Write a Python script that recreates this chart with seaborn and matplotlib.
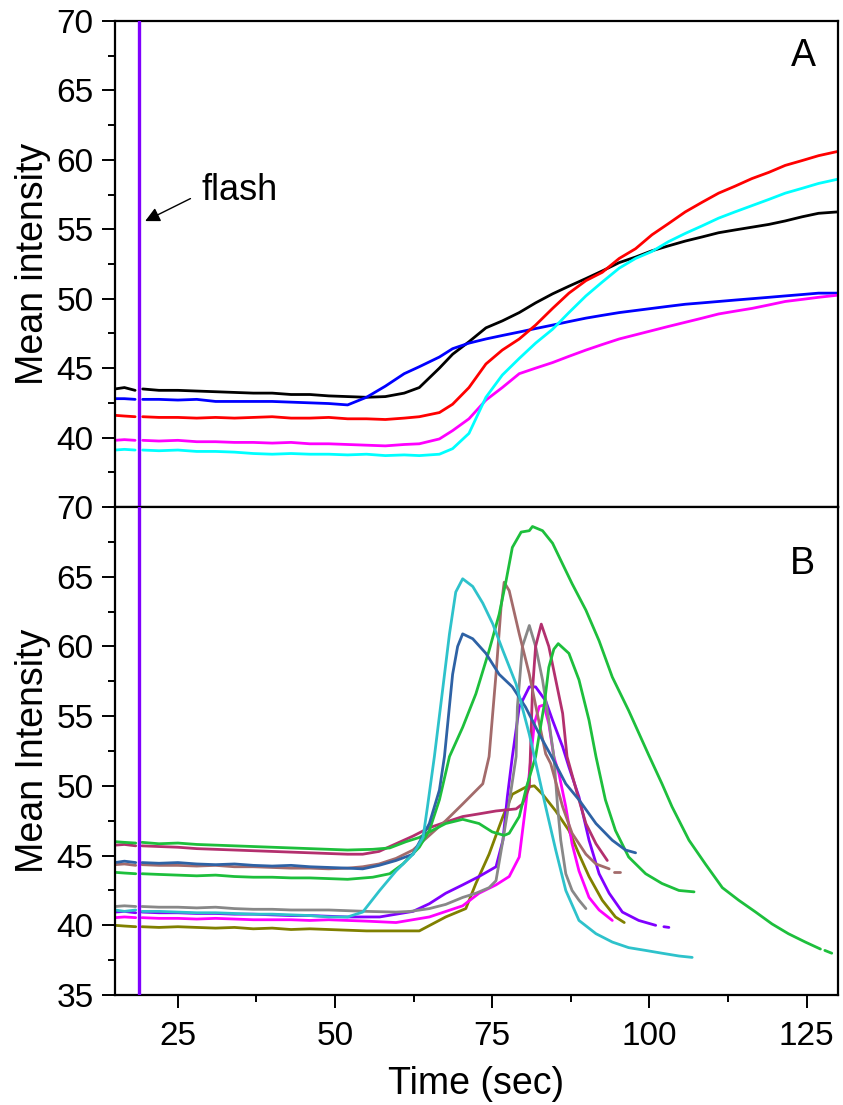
import numpy as np
import pandas as pd
import matplotlib
matplotlib.use("Agg")
import matplotlib.pyplot as plt
from matplotlib.ticker import MultipleLocator, FixedLocator
import seaborn as sns

nan = np.nan

# ---- panel A: shared time grid (gap where the flash hits) ----
time_a = [15, 16.5, 18.2, nan, 19.4, 22, 25, 28, 31, 34, 37, 40, 43, 46, 49, 52, 55, 58, 61,
          63.4, 66.6, 68.7, 71.3, 74, 76.6, 79.3, 81.9, 84.6, 87.2, 89.9, 92.5, 95.2, 97.8,
          100.4, 103, 105.7, 108.4, 111, 113.6, 116.3, 119, 121.6, 124.3, 126.9, 129.9]
black_a = [43.5, 43.6, 43.4, nan, 43.5, 43.4, 43.4, 43.35, 43.3, 43.25, 43.2, 43.2, 43.1, 43.1,
           43.0, 42.95, 42.9, 42.95, 43.2, 43.6, 45.0, 46.0, 46.9, 47.9, 48.4, 49.0, 49.7,
           50.35, 50.9, 51.45, 52.0, 52.6, 53.0, 53.45, 53.8, 54.15, 54.45, 54.75, 54.95,
           55.15, 55.35, 55.6, 55.9, 56.15, 56.25]
blue_a = [42.8, 42.8, 42.75, nan, 42.75, 42.75, 42.7, 42.75, 42.6, 42.6, 42.6, 42.6, 42.55,
          42.5, 42.45, 42.35, 42.9, 43.7, 44.6, 45.1, 45.8, 46.4, 46.8, 47.1, 47.35, 47.6,
          47.85, 48.1, 48.35, 48.6, 48.8, 49.0, 49.15, 49.3, 49.45, 49.6, 49.7, 49.8, 49.9,
          50.0, 50.1, 50.2, 50.3, 50.4, 50.4]
red_a = [41.6, 41.55, 41.5, nan, 41.5, 41.45, 41.45, 41.4, 41.45, 41.4, 41.45, 41.5, 41.4,
         41.4, 41.45, 41.35, 41.35, 41.3, 41.4, 41.5, 41.8, 42.4, 43.6, 45.3, 46.3, 47.1,
         48.1, 49.3, 50.4, 51.3, 51.9, 52.9, 53.6, 54.6, 55.4, 56.25, 56.95, 57.6, 58.1,
         58.65, 59.1, 59.6, 59.95, 60.3, 60.6]
magenta_a = [39.8, 39.85, 39.8, nan, 39.8, 39.75, 39.8, 39.7, 39.7, 39.65, 39.65, 39.6, 39.65,
             39.55, 39.55, 39.5, 39.45, 39.4, 39.5, 39.55, 39.9, 40.5, 41.35, 42.7, 43.6,
             44.6, 45.0, 45.4, 45.85, 46.3, 46.7, 47.1, 47.4, 47.7, 48.0, 48.3, 48.6, 48.9,
             49.1, 49.3, 49.55, 49.8, 49.95, 50.1, 50.25]
cyan_a = [39.1, 39.15, 39.1, nan, 39.1, 39.05, 39.1, 39.0, 39.0, 38.95, 38.85, 38.8, 38.85,
          38.8, 38.8, 38.75, 38.8, 38.7, 38.75, 38.7, 38.8, 39.2, 40.3, 42.9, 44.5, 45.7,
          46.8, 47.8, 49.0, 50.2, 51.2, 52.2, 52.9, 53.4, 54.1, 54.7, 55.25, 55.8, 56.25,
          56.7, 57.15, 57.6, 57.95, 58.3, 58.6]

# ---- panel B: each trace has its own time points ----
sb_t = [15, 16.5, 18.3, nan, 19.3, 22, 25, 28, 31, 34, 37, 40, 43, 46, 49, 52, 54.4, 57, 59.7,
        62.4, 65, 66.6, 67.4, 68.7, 69.5, 70.3, 71.9, 74, 76.1, 78.2, 80.3, 82.5, 84.8, 86.7,
        88.8, 91.5, 94.1, 96.2, 97.8]
sb_y = [44.5, 44.6, 44.5, nan, 44.5, 44.45, 44.5, 44.4, 44.35, 44.4, 44.3, 44.25, 44.3, 44.2,
        44.15, 44.1, 44.05, 44.3, 44.65, 45.1, 47.3, 49.7, 52.1, 58.0, 60.0, 60.9, 60.55, 59.5,
        58.0, 57.1, 55.65, 53.7, 51.8, 50.15, 49.0, 47.3, 46.1, 45.4, 45.2]
tq_t = [15, 16.5, 18.3, nan, 19.3, 22, 25, 28, 31, 34, 37, 40, 43, 46, 49, 52, 54.4, 57.1, 59.7,
        62.4, 64, 64.7, 65.8, 67.1, 68.2, 69.2, 70.3, 71.9, 73.5, 75.1, 76.7, 78.8, 80.9, 81.7,
        83.5, 85.1, 86.7, 88.8, 91.5, 94.1, 96.7, 99.4, 102, 104.7, 106.8]
tq_y = [41.1, 41.0, 41.1, nan, 41.0, 41.0, 40.95, 40.9, 40.9, 40.85, 40.8, 40.8, 40.75, 40.7,
        40.6, 40.6, 40.95, 42.5, 43.9, 45.1, 46.3, 48.5, 52.1, 56.85, 60.9, 63.9, 64.85, 64.3,
        63.1, 61.6, 59.7, 57.3, 53.7, 52.1, 48.5, 45.4, 42.5, 40.35, 39.4, 38.8, 38.4, 38.2,
        38.0, 37.8, 37.7]
g2_t = [15, 16.5, 18.3, nan, 19.3, 22, 25, 28, 31, 34, 37, 40, 43, 46, 49, 52, 56, 58.7, 60.8,
        63.4, 65, 66.6, 68.2, 70.3, 72.4, 74.5, 76.1, 77.2, 78.2, 79.6, 80.9, 81.4, 83, 84.6,
        86.2, 87.7, 89.9, 92, 94.1, 96.7, 99.9, 102, 103.6, 106.3, 108.9, 111.6, 114.2, 116.9,
        119.5, 122.1, 124.8, 127.2, nan, 127.9, 129]
g2_y = [43.8, 43.75, 43.7, nan, 43.7, 43.65, 43.6, 43.55, 43.6, 43.5, 43.45, 43.45, 43.4, 43.4,
        43.35, 43.3, 43.45, 43.7, 44.4, 45.6, 46.8, 49.0, 52.1, 54.2, 56.6, 59.7, 62.3, 64.7,
        67.1, 68.2, 68.3, 68.6, 68.3, 67.4, 65.9, 64.5, 62.6, 60.4, 57.8, 55.4, 52.2, 50.15,
        48.5, 46.1, 44.4, 42.7, 41.8, 40.95, 40.1, 39.4, 38.8, 38.3, nan, 38.2, 38.0]
g1_t = [15, 16.5, 18.3, nan, 19.3, 22, 25, 28, 31, 34, 37, 40, 43, 46, 49, 52, 56, 58.7, 61.3,
        63.4, 65, 67.6, 70.3, 72.9, 75, 76.9, 77.7, 79.3, 80.5, 81.9, 83.3, 84, 84.8, 85.5,
        87.2, 88.8, 90.4, 91.5, 93, 94.6, 96.7, 99.4, 102, 104.7, 107.1]
g1_y = [46.0, 45.95, 45.9, nan, 45.95, 45.85, 45.9, 45.8, 45.75, 45.7, 45.65, 45.6, 45.55, 45.5,
        45.45, 45.4, 45.45, 45.55, 46.0, 46.3, 46.7, 47.3, 47.6, 47.3, 46.7, 46.45, 46.6, 47.8,
        50.0, 52.1, 55.9, 58.5, 59.8, 60.2, 59.5, 57.6, 54.7, 52.1, 49.0, 46.8, 44.9, 43.7,
        43.0, 42.5, 42.4]
rb_t = [15, 16.5, 18.3, nan, 19.3, 22, 25, 28, 31, 34, 37, 40, 43, 46, 49, 52, 54.4, 57, 59.7,
        62.4, 65, 67.6, 70.3, 73.5, 74.5, 75.6, 76.4, 76.9, 77.7, 79.3, 80.9, 82.5, 83.5, 84.3,
        86.2, 87.7, 89.9, 91.5, 93.6, nan, 94.4, 95.4]
rb_y = [44.35, 44.4, 44.3, nan, 44.35, 44.3, 44.3, 44.25, 44.3, 44.2, 44.2, 44.15, 44.1, 44.1,
        44.05, 44.1, 44.2, 44.4, 44.8, 45.4, 46.45, 47.5, 48.7, 50.15, 52.1, 58.0, 62.8, 64.6,
        64.0, 60.9, 58.0, 54.45, 52.3, 51.6, 48.5, 46.6, 45.1, 44.4, 44.05, nan, 43.8, 43.8]
gy_t = [15, 16.5, 18.3, nan, 19.3, 22, 25, 28, 31, 34, 37, 40, 43, 46, 49, 52, 55, 59.7, 62, 65,
        67.6, 70.3, 72.4, 74.5, 75.6, 76.7, 78, 78.8, 79, 79.8, 80.9, 81.9, 83, 84, 84.8, 85.4,
        85.9, 86.7, 87.7, 88.8, 89.9]
gy_y = [41.35, 41.4, 41.35, nan, 41.35, 41.3, 41.3, 41.25, 41.3, 41.2, 41.15, 41.15, 41.1, 41.1,
        41.1, 41.05, 41.0, 40.95, 41.0, 41.2, 41.5, 42.0, 42.3, 42.7, 43.2, 46.1, 49.7, 52.1,
        55.65, 60.0, 61.5, 60.0, 57.6, 54.7, 52.1, 48.5, 46.1, 43.7, 42.5, 41.8, 41.2]
mr_t = [15, 16.5, 18.3, nan, 19.3, 22, 25, 28, 31, 34, 37, 40, 43, 46, 49, 52, 54.4, 57, 59.7,
        62.4, 65, 67.6, 70.3, 73, 75.6, 78.8, 79.8, 80.9, 81.4, 81.9, 82.8, 84, 85.1, 86.2,
        86.9, 88.8, 89.9, 91.5, 93.3]
mr_y = [45.75, 45.8, 45.7, nan, 45.7, 45.65, 45.6, 45.5, 45.45, 45.4, 45.35, 45.3, 45.25, 45.2,
        45.15, 45.1, 45.1, 45.3, 45.85, 46.4, 47.0, 47.4, 47.8, 48.0, 48.2, 48.35, 48.7, 49.9,
        56.85, 60.0, 61.6, 60.0, 57.6, 55.2, 52.1, 49.0, 47.3, 45.85, 44.65]
pu_t = [15, 16.5, 18.3, nan, 19.3, 22, 25, 28, 31, 34, 37, 40, 43, 46, 49, 52, 57.1, 62.4, 65,
        67.6, 70.3, 72.9, 75.6, 76.7, 77.4, 78.2, 79.3, 80.9, 81.9, 83.5, 84.6, 86.2, 87.2, 88.8,
        90.4, 92, 93.6, 95.7, 98.3, 101, nan, 102.3, 103.1]
pu_y = [40.95, 41.0, 40.9, nan, 40.95, 40.9, 40.9, 40.85, 40.85, 40.8, 40.8, 40.75, 40.7, 40.7,
        40.65, 40.6, 40.6, 41.0, 41.55, 42.3, 42.9, 43.5, 44.2, 46.1, 49.2, 52.1, 55.65, 57.1,
        57.1, 56.1, 54.7, 52.8, 51.35, 49.2, 46.1, 43.7, 42.3, 40.95, 40.35, 40.0, nan, 39.9,
        39.85]
mg_t = [15, 16.5, 18.3, nan, 19.3, 22, 25, 28, 31, 34, 37, 40, 43, 46, 49, 52, 55, 59.7, 65,
        70.3, 72.9, 75.6, 77.7, 79.3, 80.3, 80.9, 81.7, 82.5, 83.2, 84, 84.8, 85.6, 86.7, 87.7,
        88.8, 90.4, 92, 94.1, nan, 95.2]
mg_y = [40.55, 40.6, 40.55, nan, 40.55, 40.5, 40.5, 40.45, 40.5, 40.45, 40.4, 40.4, 40.4, 40.35,
        40.4, 40.35, 40.3, 40.2, 40.6, 41.4, 42.3, 42.9, 43.5, 44.9, 48.5, 50.9, 54.5, 55.7,
        55.8, 54.45, 52.1, 50.9, 48.5, 45.85, 43.9, 42.0, 41.1, 40.35, nan, 40.2]
ol_t = [15, 16.5, 18.3, nan, 19.3, 22, 25, 28, 31, 34, 37, 40, 43, 46, 49, 52, 55, 59.7, 63.4,
        67.6, 70.8, 72.4, 74.5, 76.7, 78.2, 80.3, 81.7, 83, 85.1, 87.2, 88.8, 90.4, 92.5, 94.6, 96]
ol_y = [40.0, 39.95, 39.9, nan, 39.9, 39.85, 39.9, 39.85, 39.8, 39.85, 39.75, 39.8, 39.7, 39.75,
        39.7, 39.65, 39.6, 39.6, 39.6, 40.6, 41.2, 43.0, 45.1, 47.8, 49.4, 49.9, 50.0, 49.4,
        48.2, 46.8, 45.1, 43.5, 41.8, 40.6, 40.2]

flash_time = 18.75


def to_long(curves):
    frames = []
    for name, (t, y) in curves.items():
        t = np.asarray(t, float)
        y = np.asarray(y, float)
        seg = np.cumsum(np.isnan(t))  # break the line at NaN markers
        keep = ~np.isnan(t)
        frames.append(pd.DataFrame({"time": t[keep], "intensity": y[keep],
                                    "curve": name, "seg": seg[keep]}))
    return pd.concat(frames, ignore_index=True)


df_a = to_long({
    "black": (time_a, black_a), "blue": (time_a, blue_a), "red": (time_a, red_a),
    "magenta": (time_a, magenta_a), "cyan": (time_a, cyan_a),
})
pal_a = {"black": "black", "blue": "#0000ff", "red": "#ff0000",
         "magenta": "#ff00ff", "cyan": "#00ffff"}

df_b = to_long({
    "olive": (ol_t, ol_y), "magenta": (mg_t, mg_y), "purple": (pu_t, pu_y),
    "gray": (gy_t, gy_y), "maroon": (mr_t, mr_y), "rosybrown": (rb_t, rb_y),
    "green1": (g1_t, g1_y), "green2": (g2_t, g2_y), "steelblue": (sb_t, sb_y),
    "turquoise": (tq_t, tq_y),
})
pal_b = {"olive": "#808000", "magenta": "#ff00ff", "purple": "#8000ff", "gray": "#888888",
         "maroon": "#b3306e", "rosybrown": "#a36b6b", "green1": "#1dbf3c", "green2": "#1dbf3c",
         "steelblue": "#2e62a5", "turquoise": "#2ec2cb"}

sns.set_theme(style="ticks")
plt.rcParams["font.family"] = ["Liberation Sans", "DejaVu Sans"]
plt.rcParams.update({"text.color": "black", "axes.labelcolor": "black",
                     "xtick.color": "black", "ytick.color": "black"})

fig = plt.figure(figsize=(8.43, 11.05), dpi=100)
ax_a = fig.add_axes([0.1364, 0.5412, 0.8577, 0.4398])
ax_b = fig.add_axes([0.1364, 0.0995, 0.8577, 0.4417])

for ax, df, pal in [(ax_a, df_a, pal_a), (ax_b, df_b, pal_b)]:
    sns.lineplot(data=df, x="time", y="intensity", hue="curve", units="seg",
                 estimator=None, palette=pal, hue_order=list(pal.keys()), sort=False,
                 legend=False, linewidth=2.0, ax=ax)
    ax.axvline(flash_time, color="#7f00ff", linewidth=2.4, zorder=5)
    ax.set_xlim(15, 130)
    ax.set_ylim(35, 70)
    ax.xaxis.set_major_locator(MultipleLocator(25))
    ax.xaxis.set_minor_locator(MultipleLocator(12.5))
    ax.yaxis.set_minor_locator(MultipleLocator(2.5))
    for sp in ax.spines.values():
        sp.set_visible(True)
        sp.set_linewidth(1.6)
        sp.set_color("black")
    ax.tick_params(which="major", direction="out", length=9.5, width=1.4, labelsize=24,
                   colors="black")
    ax.tick_params(which="minor", direction="out", length=5, width=1.4)
    ax.tick_params(axis="y", which="both", left=True, right=False, pad=6)
    ax.set_facecolor("white")

ax_a.yaxis.set_major_locator(FixedLocator([40, 45, 50, 55, 60, 65, 70]))
ax_b.yaxis.set_major_locator(MultipleLocator(5))

ax_a.tick_params(axis="x", which="both", bottom=True, top=False, labelbottom=False)
ax_b.tick_params(axis="x", which="both", bottom=True, top=False, pad=9)

ax_a.set_xlabel("")
ax_a.set_ylabel("Mean intensity", fontsize=27, labelpad=4)
ax_b.set_ylabel("Mean Intensity", fontsize=27, labelpad=4)
ax_b.set_xlabel("Time (sec)", fontsize=27, labelpad=10)

ax_a.text(124.5, 67.5, "A", fontsize=27, ha="center", va="center")
ax_b.text(124.4, 65.9, "B", fontsize=27, ha="center", va="center")

ax_a.annotate("", xy=(19.4, 55.5), xytext=(27.4, 57.3),
              arrowprops=dict(arrowstyle="-|>", color="black", lw=1.0, mutation_scale=22))
ax_a.text(28.8, 57.1, "flash", fontsize=26, ha="left", va="baseline")

fig.savefig("out.png", dpi=100, facecolor="white")
